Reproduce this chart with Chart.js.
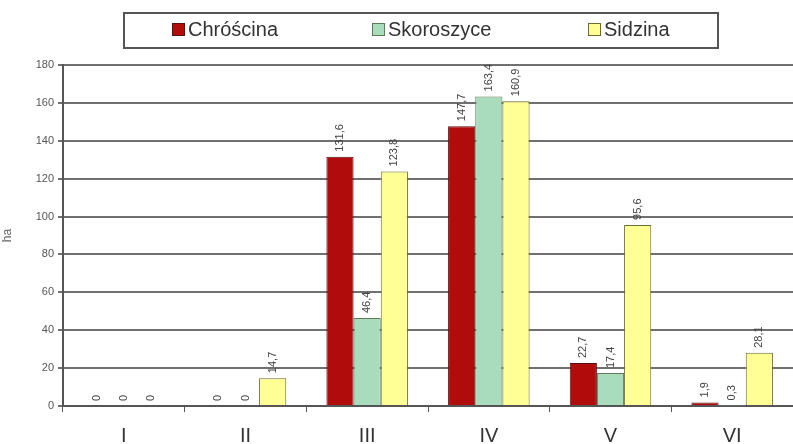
<!DOCTYPE html>
<html>
<head>
<meta charset="utf-8">
<script src="https://cdn.jsdelivr.net/npm/chart.js@4"></script>
<style>
  html, body { margin: 0; padding: 0; background: #fff; }
  #wrap { width: 793px; height: 444px; }
</style>
</head>
<body>
<div id="wrap"><canvas id="chart" width="793" height="444"></canvas></div>
<script>
// data
const categories = ['I', 'II', 'III', 'IV', 'V', 'VI'];
const chroscina = [0, 0, 131.6, 147.7, 22.7, 1.9];
const skoroszyce = [0, 0, 46.4, 163.4, 17.4, 0.3];
const sidzina = [0, 14.7, 123.8, 160.9, 95.6, 28.1];
const yTicks = [0, 20, 40, 60, 80, 100, 120, 140, 160, 180];

const FONT = '"Liberation Sans", Arial, sans-serif';

// value labels, rotated, above each bar
const barLabels = {
    id: 'barLabels',
    afterDatasetsDraw(chart) {
        const ctx = chart.ctx;
        ctx.save();
        ctx.font = '11px ' + FONT;
        ctx.fillStyle = '#444';
        ctx.textAlign = 'left';
        ctx.textBaseline = 'middle';
        chart.data.datasets.forEach((ds, i) => {
            chart.getDatasetMeta(i).data.forEach((bar, j) => {
                const txt = String(ds.data[j]).replace('.', ',');
                ctx.save();
                ctx.translate(bar.x, bar.y - 5);
                ctx.rotate(-Math.PI / 2);
                ctx.fillText(txt, 0, 0);
                ctx.restore();
            });
        });
        ctx.restore();
    }
};

// legend in a frame at the top
const legendBox = {
    id: 'legendBox',
    afterDraw(chart) {
        const ctx = chart.ctx;
        const xs = [172, 372, 588]; // where each legend square starts
        ctx.save();
        ctx.strokeStyle = '#555';
        ctx.lineWidth = 2;
        ctx.strokeRect(124, 13, 594, 35);
        ctx.font = '20px ' + FONT;
        ctx.textBaseline = 'middle';
        ctx.textAlign = 'left';
        chart.data.datasets.forEach((ds, i) => {
            ctx.fillStyle = ds.backgroundColor;
            ctx.fillRect(xs[i], 23, 13, 13);
            ctx.strokeStyle = ds.borderColor;
            ctx.lineWidth = 1;
            ctx.strokeRect(xs[i] + 0.5, 23.5, 12, 12);
            ctx.fillStyle = '#333';
            ctx.fillText(ds.label, xs[i] + 16, 30);
        });
        ctx.restore();
    }
};

const ctx = document.querySelector('#chart').getContext('2d');

new Chart(ctx, {
    type: 'bar',
    data: {
        labels: categories,
        datasets: [
            {
                label: 'Chróścina',
                data: chroscina,
                backgroundColor: '#b00c0c',
                borderColor: '#5a1010',
                borderWidth: 1
            },
            {
                label: 'Skoroszyce',
                data: skoroszyce,
                backgroundColor: '#a9dcbc',
                borderColor: '#5f7a5a',
                borderWidth: 1
            },
            {
                label: 'Sidzina',
                data: sidzina,
                backgroundColor: '#ffff96',
                borderColor: '#6b6b30',
                borderWidth: 1
            }
        ]
    },
    options: {
        responsive: false,
        animation: false,
        layout: { padding: { left: 0, right: -6, top: 65, bottom: 0 } },
        datasets: {
            bar: { categoryPercentage: 0.67, barPercentage: 1.0 }
        },
        plugins: {
            tooltip: { enabled: false },
            legend: { display: false }
        },
        scales: {
            x: {
                offset: true,
                afterFit(scale) { scale.height = 38; },
                grid: {
                    offset: true,
                    drawOnChartArea: false,
                    color: '#555',
                    tickLength: 6
                },
                border: { color: '#555', width: 2 },
                ticks: {
                    color: '#333',
                    padding: 12,
                    font: { size: 20, family: FONT }
                }
            },
            y: {
                min: 0,
                max: 180,
                afterFit(scale) { scale.width = 63; },
                afterBuildTicks(scale) { scale.ticks = yTicks.map(v => ({ value: v })); },
                title: {
                    display: true,
                    text: 'ha',
                    color: '#666',
                    padding: 0,
                    font: { size: 12, family: FONT }
                },
                grid: {
                    color: '#707070',
                    lineWidth: 2,
                    tickLength: 5
                },
                border: { color: '#555', width: 2 },
                ticks: {
                    color: '#555',
                    padding: 4,
                    font: { size: 11, family: FONT }
                }
            }
        }
    },
    plugins: [barLabels, legendBox]
});
</script>
</body>
</html>
